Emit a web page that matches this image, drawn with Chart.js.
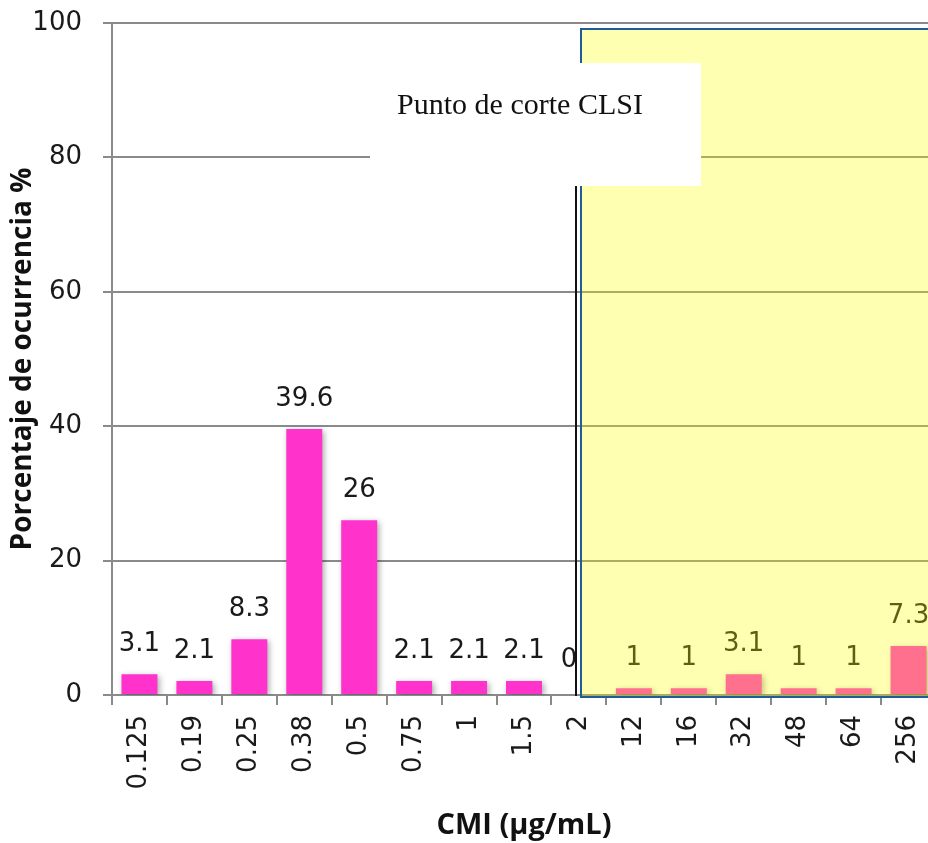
<!DOCTYPE html>
<html>
<head>
<meta charset="utf-8">
<script src="https://cdn.jsdelivr.net/npm/chart.js@4.4.1/dist/chart.umd.min.js"></script>
<style>
  html, body { margin: 0; padding: 0; background: #fff; overflow: hidden; }
  #wrap { width: 928px; height: 843px; overflow: hidden; position: relative; }
  canvas { display: block; }
</style>
</head>
<body>
<div id="wrap"><canvas id="c" width="960" height="843"></canvas></div>
<script>
// ---- data ----
const categories = ['0.125', '0.19', '0.25', '0.38', '0.5', '0.75', '1', '1.5', '2', '12', '16', '32', '48', '64', '256'];
const percentages = [3.1, 2.1, 8.3, 39.6, 26, 2.1, 2.1, 2.1, 0, 1, 1, 3.1, 1, 1, 7.3];
const yTicks = [0, 20, 40, 60, 80, 100];
const cutoffCategory = '2';
const cutoffLabel = 'Punto de corte CLSI';
const xTitle = 'CMI (µg/mL)';
const yTitle = 'Porcentaje de ocurrencia %';

const GRID = '#8a8a8a';
const TXT = '#1a1a1a';

const barsPlugin = {
  id: 'barsExtras',
  beforeDatasetsDraw(chart) {
    const ctx = chart.ctx;
    ctx.save();
    ctx.shadowColor = 'rgba(0,0,0,0.35)';
    ctx.shadowBlur = 6;
    ctx.shadowOffsetX = 2;
    ctx.shadowOffsetY = 2;
  },
  afterDatasetsDraw(chart) {
    const ctx = chart.ctx;
    ctx.restore();
    const meta = chart.getDatasetMeta(0);
    ctx.save();
    ctx.font = '26px "DejaVu Sans"';
    ctx.fillStyle = TXT;
    ctx.textAlign = 'center';
    ctx.textBaseline = 'alphabetic';
    meta.data.forEach((bar, i) => {
      const v = percentages[i];
      let dx = 0, dy = -23;
      if (v === 0) { dx = -10; dy = -28; }
      ctx.fillText(String(v), bar.x + dx, bar.y + dy);
    });
    ctx.restore();
  },
  afterDraw(chart) {
    const { ctx, scales: { x, y } } = chart;
    const cx = x.getPixelForValue(categories.indexOf(cutoffCategory));
    const left = Math.round(cx + 2.3);
    const top = Math.round(y.getPixelForValue(100)) + 6;
    const bottom = Math.round(y.getPixelForValue(0)) + 2;
    const right = chart.width + 20;
    ctx.save();
    ctx.fillStyle = 'rgba(255,255,0,0.3)';
    ctx.fillRect(left, top, right - left, bottom - top);
    ctx.strokeStyle = '#1f5c99';
    ctx.lineWidth = 2;
    ctx.strokeRect(left, top, right - left, bottom - top);
    // white annotation box
    const bx = 370, by = 63, bw = 331, bh = 123;
    // black cut-off line
    ctx.strokeStyle = '#111';
    ctx.lineWidth = 2;
    ctx.beginPath();
    ctx.moveTo(Math.round(cx - 2.7), by + bh);
    ctx.lineTo(Math.round(cx - 2.7), bottom - 1);
    ctx.stroke();
    ctx.fillStyle = '#fff';
    ctx.fillRect(bx, by, bw, bh);
    ctx.fillStyle = '#111';
    ctx.font = '30px "Liberation Serif"';
    ctx.textAlign = 'center';
    ctx.textBaseline = 'alphabetic';
    ctx.fillText(cutoffLabel, 520, 114);
    ctx.restore();
  }
};

new Chart(document.getElementById('c'), {
  type: 'bar',
  data: {
    labels: categories,
    datasets: [{
      data: percentages,
      backgroundColor: '#ff33cc',
      borderWidth: 0,
      barPercentage: 0.655,
      categoryPercentage: 1.0
    }]
  },
  options: {
    responsive: false,
    animation: false,
    events: [],
    layout: { padding: { top: 23, right: 24, bottom: 0, left: 0 } },
    plugins: { legend: { display: false }, tooltip: { enabled: false } },
    scales: {
      x: {
        offset: true,
        grid: { display: true, drawOnChartArea: false, drawTicks: true, tickLength: 10, color: GRID, lineWidth: 2, offset: true },
        border: { display: true, color: GRID, width: 2 },
        ticks: {
          minRotation: 90, maxRotation: 90, autoSkip: false, padding: 10,
          color: TXT, font: { family: '"DejaVu Sans"', size: 26 }
        },
        title: {
          display: true, text: xTitle, color: '#111',
          font: { family: '"Open Sans"', size: 29, weight: 'bold' },
          padding: { top: 0, bottom: 0 }
        },
        afterFit(scale) { scale.height = 148; scale.paddingLeft = 0; scale.paddingRight = 0; }
      },
      y: {
        min: 0, max: 100,
        afterBuildTicks(scale) { scale.ticks = yTicks.map(v => ({ value: v })); },
        grid: { color: GRID, lineWidth: 2, tickLength: 9, drawTicks: true },
        border: { display: true, color: GRID, width: 2 },
        ticks: {
          padding: 21, color: TXT, font: { family: '"DejaVu Sans"', size: 26 }
        },
        title: {
          display: true, text: yTitle, color: '#111',
          font: { family: '"Open Sans"', size: 28, weight: 'bold' },
          padding: { top: 6, bottom: 0 }
        },
        afterFit(scale) { scale.width = 112; scale.paddingTop = 0; scale.paddingBottom = 0; }
      }
    }
  },
  plugins: [barsPlugin]
});
</script>
</body>
</html>
